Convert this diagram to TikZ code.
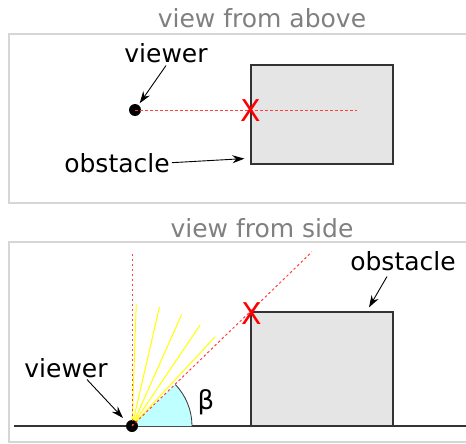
\documentclass[tikz,border=0pt]{standalone}
\usepackage{fontspec}
\setmainfont{DejaVu Sans}
\usetikzlibrary{positioning,arrows.meta,calc}
\definecolor{framegray}{HTML}{D6D6D6}
\definecolor{titlegray}{HTML}{808080}
\definecolor{boxfill}{HTML}{E5E5E5}
\definecolor{edgegray}{HTML}{333333}
\definecolor{sightred}{HTML}{FF4040}
\definecolor{rayyellow}{HTML}{FFFF00}
\definecolor{anglecyan}{HTML}{C0FFFF}
\tikzset{
  panel/.style    = {draw=framegray, line width=1.2pt},
  title/.style    = {font=\fontsize{25}{30}\selectfont, text=titlegray, anchor=base, inner sep=0pt},
  lbl/.style      = {font=\fontsize{25}{30}\selectfont, anchor=base, inner sep=2pt},
  block/.style    = {rectangle, draw=edgegray, fill=boxfill, line width=1.2pt, inner sep=0pt},
  eye/.style      = {circle, fill=black, inner sep=0pt, minimum size=12pt},
  hit/.style      = {font=\fontsize{30}{32}\selectfont, text=red, inner sep=0pt},
  sight/.style    = {draw=sightred, line width=1pt, dash pattern=on 2.5pt off 2.5pt},
  ray/.style      = {draw=rayyellow, line width=1pt},
  callout/.style  = {-{Stealth[length=12pt, width=8pt]}, line width=0.9pt},
}

\begin{document}
\begin{tikzpicture}[x=1pt, y=-1pt]
  \path[use as bounding box, clip] (0,0) rectangle (466,444);
  \fill[white] (0,0) rectangle (466,444);

  % view from above
  \draw[panel] (9,34) rectangle (480,203);
  \node[title] (ttop) at (262,28) {view from above};
  \node[block, minimum width=142pt, minimum height=99pt] (rtop) at (322,114.5) {};
  \node[eye] (etop) at (135,110) {};
  \coordinate (ftop) at (357,110);
  \draw[sight] (etop.center) -- (ftop);
  \node[hit] (xtop) at (251,111) {X};
  \node[lbl] (vtop) at (166,63) {viewer};
  \node[lbl] (otop) at (117,172) {obstacle};
  \draw[callout, shorten >=2pt] (vtop.south) -- (etop);
  \draw[callout] (otop.east) -- ($(rtop.south west)+(-6,-6)$);

  % view from side
  \draw[panel] (9,242) rectangle (480,442);
  \node[title] (tside) at (262,237) {view from side};
  \node[block, minimum width=142pt, minimum height=114pt] (rside) at (322,369) {};
  \coordinate (gl) at (14,426);
  \coordinate (gr) at (480,426);
  \draw[edgegray, line width=1.2pt] (gl) -- (gr);
  \coordinate (eye) at (132,426);
  \fill[anglecyan] (eye) -- ++(60,0) arc (0:-43.8:60) -- cycle;
  \draw[edgegray, line width=0.8pt] ($(eye)+(60,0)$) arc (0:-43.8:60);
  \foreach \a in {88,77,66,56,47}
    \draw[ray] (eye) -- ++(-\a:122);
  \node[eye] (eside) at (eye) {};
  \draw[sight] (eside.center) -- (132,253);
  \draw[sight] (eside.center) -- ($(eside.center)!1.52!(rside.north west)$);
  \node[hit] (xside) at (252,314) {X};
  \node[lbl] (vside) at (66,377) {viewer};
  \node[lbl] (oside) at (403,270) {obstacle};
  \node[lbl, font=\fontsize{26}{30}\selectfont] (beta) at (206,409) {β};
  \draw[callout] ($(vside.south)+(21,0)$) -- ($(eside.center)+(-9,-8)$);
  \draw[callout] ($(oside.south)+(-16,4)$) -- ($(rside.north)+(47,-4)$);
\end{tikzpicture}
\end{document}
